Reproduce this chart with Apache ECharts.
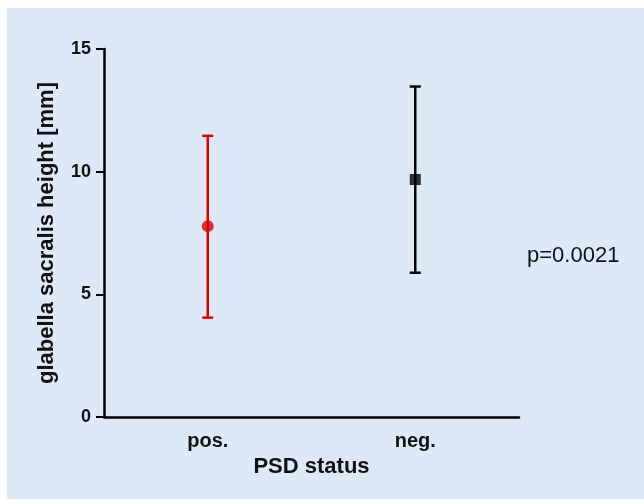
<!DOCTYPE html>
<html>
<head>
<meta charset="utf-8">
<script src="https://cdn.jsdelivr.net/npm/echarts@6/dist/echarts.min.js"></script>
<style>
  html, body { margin: 0; padding: 0; background: #fff; }
  #chart { width: 644px; height: 499px; }
</style>
</head>
<body>
<div id="chart"></div>
<script>
// values
var categories = ["pos.", "neg."];
var means = [7.78, 9.68];
var lowerBars = [4.05, 5.88];
var upperBars = [11.46, 13.47];
var yTicks = [0, 5, 10, 15];

var barColors = ["#e00000", "#000000"];
var markers = ["circle", "rect"];

var chart = echarts.init(document.getElementById("chart"));

var errData = categories.map(function (c, i) {
  return [i, lowerBars[i], upperBars[i]];
});
var pointData = categories.map(function (c, i) {
  return {
    value: [i, means[i]],
    symbol: markers[i],
    symbolSize: i === 0 ? 12 : 11,
    itemStyle: { color: barColors[i] }
  };
});

chart.setOption({
  animation: false,
  backgroundColor: "#ffffff",
  textStyle: { fontFamily: "Liberation Sans, Arial, sans-serif" },
  graphic: [
    {
      type: "rect",
      z: -10,
      shape: { x: 7, y: 8, width: 644, height: 499 },
      style: { fill: "#dde9f6" },
      silent: true
    },
    {
      type: "text",
      left: 527,
      top: 245,
      style: {
        text: "p=0.0021",
        fill: "#111",
        font: "22px Liberation Sans, Arial, sans-serif"
      }
    }
  ],
  grid: { left: 104, right: 125, top: 49, bottom: 82, containLabel: false },
  xAxis: {
    type: "category",
    data: categories,
    boundaryGap: true,
    name: "PSD status",
    nameLocation: "middle",
    nameGap: 36,
    nameTextStyle: { fontSize: 22, fontWeight: "bold", color: "#111" },
    axisLine: { lineStyle: { color: "#000", width: 2.5 } },
    axisTick: { alignWithLabel: true, length: 7, lineStyle: { color: "#000", width: 2.5 } },
    axisLabel: { fontSize: 20, fontWeight: "bold", color: "#111", margin: 14 },
    splitLine: { show: false }
  },
  yAxis: {
    type: "value",
    min: yTicks[0],
    max: yTicks[yTicks.length - 1],
    interval: 5,
    name: "glabella sacralis height [mm]",
    nameLocation: "middle",
    nameGap: 46,
    nameTextStyle: { fontSize: 22, fontWeight: "bold", color: "#111" },
    axisLine: { show: true, lineStyle: { color: "#000", width: 2.5 } },
    axisTick: { show: true, length: 8, lineStyle: { color: "#000", width: 2 } },
    axisLabel: { fontSize: 18, fontWeight: "bold", color: "#111", margin: 13 },
    splitLine: { show: false }
  },
  series: [
    {
      type: "custom",
      data: errData,
      z: 2,
      renderItem: function (params, api) {
        var i = api.value(0);
        var lo = api.coord([i, api.value(1)]);
        var hi = api.coord([i, api.value(2)]);
        var half = 5.5;
        var style = { stroke: barColors[params.dataIndex], lineWidth: 2.5 };
        return {
          type: "group",
          children: [
            { type: "line", shape: { x1: lo[0], y1: lo[1], x2: hi[0], y2: hi[1] }, style: style },
            { type: "line", shape: { x1: lo[0] - half, y1: lo[1], x2: lo[0] + half, y2: lo[1] }, style: style },
            { type: "line", shape: { x1: hi[0] - half, y1: hi[1], x2: hi[0] + half, y2: hi[1] }, style: style }
          ]
        };
      }
    },
    {
      type: "scatter",
      z: 3,
      data: pointData
    }
  ]
});
</script>
</body>
</html>
